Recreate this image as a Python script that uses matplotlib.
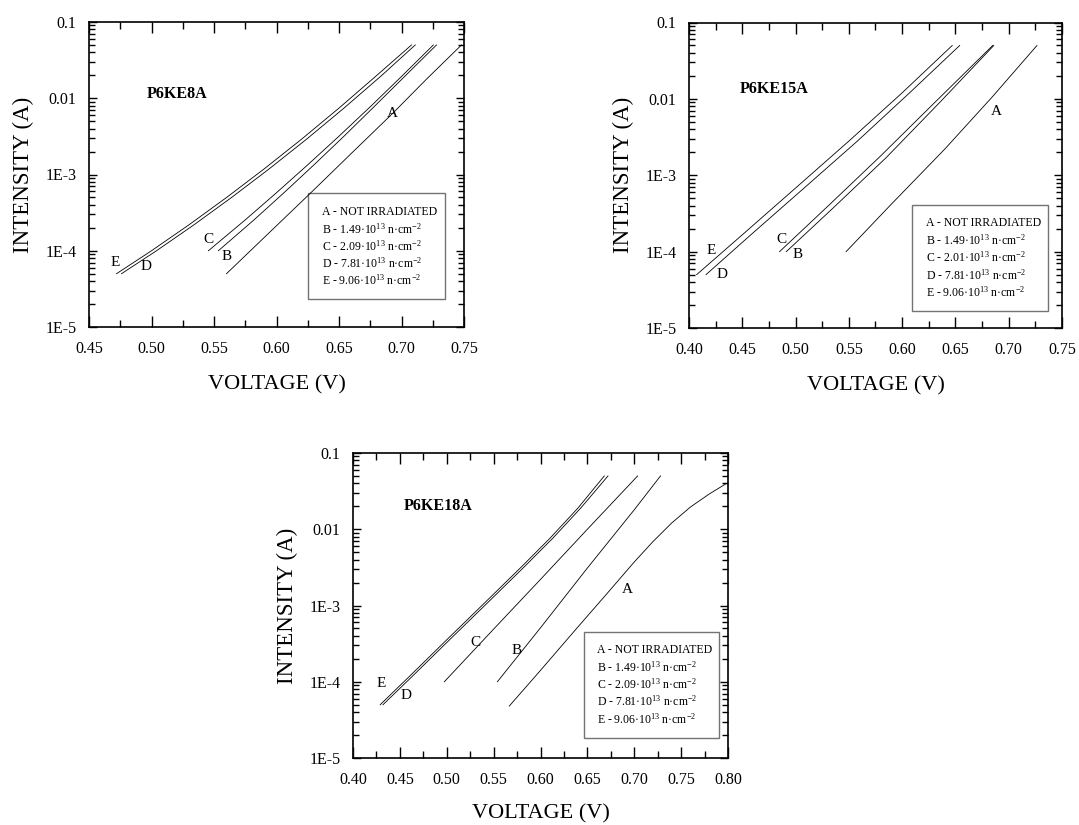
import numpy as np
import matplotlib
matplotlib.use("Agg")
import matplotlib.pyplot as plt
from matplotlib.patches import Rectangle
from matplotlib.ticker import FixedLocator, LogLocator, MultipleLocator, NullFormatter, FormatStrFormatter

plt.rcParams['font.family'] = ['Liberation Serif', 'DejaVu Serif']
plt.rcParams['mathtext.fontset'] = 'custom'
plt.rcParams['mathtext.rm'] = 'Liberation Serif'
plt.rcParams['mathtext.it'] = 'Liberation Serif:italic'
plt.rcParams['mathtext.bf'] = 'Liberation Serif:bold'

# --- data: voltage (V) / intensity (A) per fluence ---
curves = ["A", "B", "C", "D", "E"]

# P6KE8A
p8_volt = {
    "A": [0.560, 0.600, 0.627, 0.660, 0.693, 0.720, 0.748],
    "B": [0.5535, 0.582, 0.606, 0.630, 0.654, 0.678, 0.7025, 0.728],
    "C": [0.5455, 0.575, 0.600, 0.625, 0.650, 0.675, 0.700, 0.7255],
    "D": [0.476, 0.504, 0.534, 0.564, 0.594, 0.624, 0.654, 0.684, 0.711],
    "E": [0.472, 0.500, 0.530, 0.560, 0.590, 0.620, 0.650, 0.680, 0.708],
}
p8_curr = {
    "A": [5.0e-5, 2.13e-4, 5.66e-4, 1.9e-3, 6.35e-3, 1.78e-2, 5.0e-2],
    "B": [1.0e-4, 2.54e-4, 5.77e-4, 1.34e-3, 3.18e-3, 7.73e-3, 1.93e-2, 5.0e-2],
    "C": [1.0e-4, 2.54e-4, 5.77e-4, 1.34e-3, 3.18e-3, 7.73e-3, 1.93e-2, 5.0e-2],
    "D": [5.0e-5, 1.0e-4, 2.19e-4, 4.99e-4, 1.18e-3, 2.90e-3, 7.43e-3, 1.98e-2, 5.0e-2],
    "E": [5.0e-5, 1.0e-4, 2.19e-4, 4.99e-4, 1.18e-3, 2.90e-3, 7.43e-3, 1.98e-2, 5.0e-2],
}

# P6KE15A
p15_volt = {
    "A": [0.5474, 0.590, 0.640, 0.6848, 0.7265],
    "B": [0.4913, 0.535, 0.585, 0.635, 0.686],
    "C": [0.485, 0.530, 0.580, 0.630, 0.685],
    "D": [0.416, 0.458, 0.508, 0.558, 0.607, 0.654],
    "E": [0.4072, 0.450, 0.500, 0.550, 0.600, 0.647],
}
p15_curr = {
    "A": [1.0e-4, 4.2e-4, 2.2e-3, 1.07e-2, 5.0e-2],
    "B": [1.0e-4, 3.7e-4, 1.7e-3, 8.9e-3, 5.0e-2],
    "C": [1.0e-4, 3.9e-4, 1.8e-3, 8.8e-3, 5.0e-2],
    "D": [5.0e-5, 1.66e-4, 6.8e-4, 2.8e-3, 1.2e-2, 5.0e-2],
    "E": [5.0e-5, 1.66e-4, 6.8e-4, 2.8e-3, 1.2e-2, 5.0e-2],
}

# P6KE18A
p18_volt = {
    "A": [0.5667, 0.600, 0.640, 0.670, 0.700, 0.720, 0.740, 0.760, 0.780, 0.7986],
    "B": [0.554, 0.600, 0.650, 0.700, 0.728],
    "C": [0.4974, 0.550, 0.600, 0.650, 0.7036],
    "D": [0.432, 0.463, 0.503, 0.543, 0.583, 0.613, 0.643, 0.672],
    "E": [0.429, 0.460, 0.500, 0.540, 0.580, 0.610, 0.640, 0.668],
}
p18_curr = {
    "A": [4.8e-5, 1.41e-4, 5.25e-4, 1.39e-3, 3.72e-3, 6.9e-3, 1.21e-2, 1.96e-2, 2.9e-2, 4.0e-2],
    "B": [1.0e-4, 5.1e-4, 3.1e-3, 1.8e-2, 5.0e-2],
    "C": [1.0e-4, 4.9e-4, 2.2e-3, 1.0e-2, 5.0e-2],
    "D": [5.0e-5, 1.17e-4, 3.55e-4, 1.07e-3, 3.24e-3, 7.6e-3, 1.9e-2, 5.0e-2],
    "E": [5.0e-5, 1.17e-4, 3.55e-4, 1.07e-3, 3.24e-3, 7.6e-3, 1.9e-2, 5.0e-2],
}

legend8 = ["A - NOT IRRADIATED",
           "B - 1.49·10$^{13}$ n·cm$^{-2}$",
           "C - 2.09·10$^{13}$ n·cm$^{-2}$",
           "D - 7.81·10$^{13}$ n·cm$^{-2}$",
           "E - 9.06·10$^{13}$ n·cm$^{-2}$"]
legend15 = ["A - NOT IRRADIATED",
            "B - 1.49·10$^{13}$ n·cm$^{-2}$",
            "C - 2.01·10$^{13}$ n·cm$^{-2}$",
            "D - 7.81·10$^{13}$ n·cm$^{-2}$",
            "E - 9.06·10$^{13}$ n·cm$^{-2}$"]
legend18 = legend8

ytick_vals = [1e-5, 1e-4, 1e-3, 1e-2, 1e-1]
ytick_text = ["1E-5", "1E-4", "1E-3", "0.01", "0.1"]


def setup(ax, xmin, xmax, xpad):
    ax.set_yscale('log')
    ax.set_ylim(1e-5, 0.1)
    ax.set_xlim(xmin, xmax)
    ax.xaxis.set_major_locator(MultipleLocator(0.05))
    ax.xaxis.set_minor_locator(MultipleLocator(0.025))
    ax.xaxis.set_major_formatter(FormatStrFormatter('%.2f'))
    ax.yaxis.set_major_locator(FixedLocator(ytick_vals))
    ax.set_yticklabels(ytick_text)
    ax.yaxis.set_minor_locator(LogLocator(base=10, subs=np.arange(2, 10), numticks=20))
    ax.yaxis.set_minor_formatter(NullFormatter())
    ax.tick_params(which='both', direction='in', top=True, right=True,
                   labelsize=11.5, width=1, color='k')
    ax.tick_params(axis='x', which='major', length=8, pad=10)
    ax.tick_params(axis='x', which='minor', length=5)
    ax.tick_params(axis='y', which='major', length=6, pad=9)
    ax.tick_params(axis='y', which='minor', length=4)
    for s in ax.spines.values():
        s.set_linewidth(1.2)
    ax.set_xlabel("VOLTAGE (V)", fontsize=16, labelpad=xpad)
    ax.set_ylabel("INTENSITY (A)", fontsize=16.5, labelpad=8)


def legend_box(ax, rect, tx, ty, lines):
    ax.add_patch(Rectangle(rect[:2], rect[2], rect[3], transform=ax.transAxes,
                           fill=False, edgecolor='0.45', lw=1))
    for k, t in enumerate(lines):
        ax.text(tx, ty - k * 0.0565, t, transform=ax.transAxes, fontsize=8.5,
                va='center', ha='left')


fig = plt.figure(figsize=(10.79, 8.25), dpi=100)
ax1 = fig.add_axes([89 / 1079, 1 - 327 / 825, 375 / 1079, 305 / 825])
ax2 = fig.add_axes([689 / 1079, 1 - 328 / 825, 373 / 1079, 305.5 / 825])
ax3 = fig.add_axes([353 / 1079, 1 - 758 / 825, 375 / 1079, 305 / 825])

panels = [
    (ax1, p8_volt, p8_curr, 0.45, 0.75, 13, "P6KE8A", (0.154, 0.764),
     {"A": (0.693, 6.3e-3), "B": (0.560, 8.5e-5), "C": (0.5455, 1.41e-4),
      "D": (0.4958, 6.2e-5), "E": (0.4708, 7.1e-5)},
     (0.584, 0.092, 0.365, 0.347), 0.62, 0.378, legend8),
    (ax2, p15_volt, p15_curr, 0.40, 0.75, 13, "P6KE15A", (0.135, 0.782),
     {"A": (0.6885, 6.8e-3), "B": (0.5019, 9.3e-5), "C": (0.4872, 1.42e-4),
      "D": (0.4308, 4.95e-5), "E": (0.4207, 1.04e-4)},
     (0.599, 0.057, 0.364, 0.346), 0.635, 0.343, legend15),
    (ax3, p18_volt, p18_curr, 0.40, 0.80, 12, "P6KE18A", (0.136, 0.826),
     {"A": (0.6926, 1.63e-3), "B": (0.5746, 2.6e-4), "C": (0.5309, 3.25e-4),
      "D": (0.4565, 6.6e-5), "E": (0.4306, 9.5e-5)},
     (0.616, 0.0666, 0.361, 0.347), 0.6515, 0.354, legend18),
]

for ax, volt, curr, xmin, xmax, xpad, name, npos, lpos, rect, tx, ty, leg in panels:
    setup(ax, xmin, xmax, xpad)
    for c in curves:
        ax.plot(volt[c], curr[c], color='k', lw=0.6)
        ax.text(lpos[c][0], lpos[c][1], c, fontsize=11, ha='center', va='center')
    ax.text(npos[0], npos[1], name, transform=ax.transAxes, fontsize=11.5,
            fontweight='bold', ha='left', va='center')
    legend_box(ax, rect, tx, ty, leg)

fig.savefig("out.png", dpi=100)
